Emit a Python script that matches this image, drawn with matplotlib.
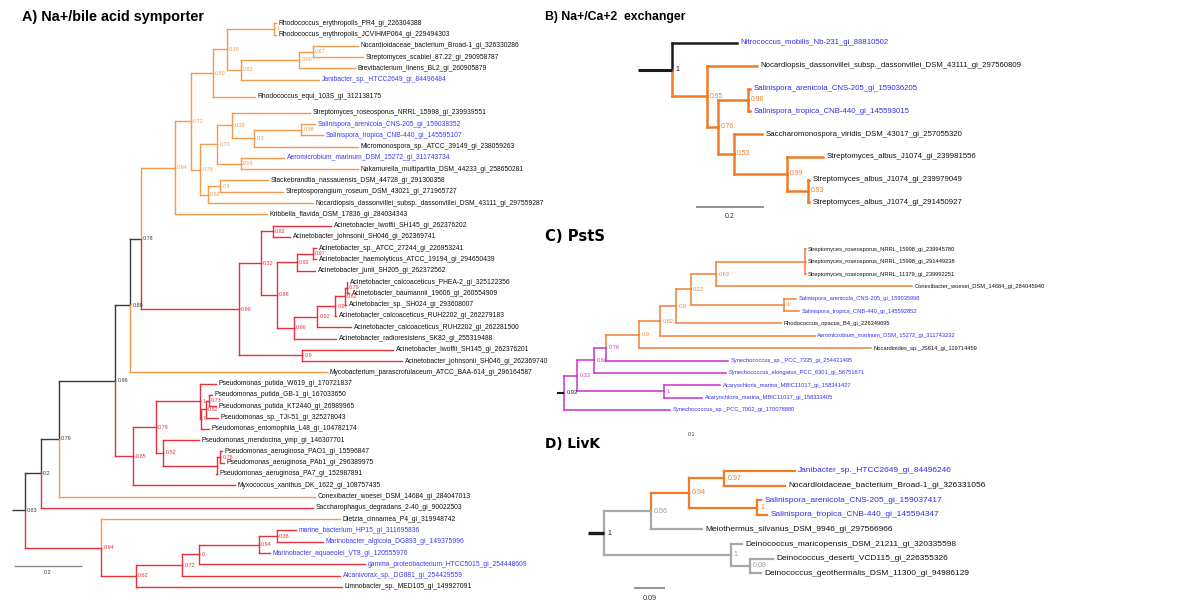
import matplotlib
matplotlib.use("Agg")
import matplotlib.pyplot as plt
from matplotlib.collections import LineCollection
from matplotlib.transforms import ScaledTranslation

plt.rcParams['font.family'] = ['Liberation Sans', 'DejaVu Sans']

# ====================== DATA ======================
# ---- Panel A: Na+/bile acid symporter ----
A_leaves = [
    'Rhodococcus_erythropolis_PR4_gi_226304388',
    'Rhodococcus_erythropolis_JCVIHMP064_gi_229494303',
    'Nocardioidaceae_bacterium_Broad-1_gi_326330286',
    'Streptomyces_scabiei_87.22_gi_290958787',
    'Brevibacterium_linens_BL2_gi_260905879',
    'Janibacter_sp._HTCC2649_gi_84496484',
    'Rhodococcus_equi_103S_gi_312138175',
    'Streptomyces_roseosporus_NRRL_15998_gi_239939551',
    'Salinispora_arenicola_CNS-205_gi_159038352',
    'Salinispora_tropica_CNB-440_gi_145595107',
    'Micromonospora_sp._ATCC_39149_gi_238059263',
    'Aeromicrobium_marinum_DSM_15272_gi_311743734',
    'Nakamurella_multipartita_DSM_44233_gi_258650281',
    'Stackebrandtia_nassauensis_DSM_44728_gi_291300358',
    'Streptosporangium_roseum_DSM_43021_gi_271965727',
    'Nocardiopsis_dassonvillei_subsp._dassonvillei_DSM_43111_gi_297559287',
    'Kribbella_flavida_DSM_17836_gi_284034343',
    'Acinetobacter_lwoffii_SH145_gi_262376202',
    'Acinetobacter_johnsonii_SH046_gi_262369741',
    'Acinetobacter_sp._ATCC_27244_gi_226953241',
    'Acinetobacter_haemolyticus_ATCC_19194_gi_294650439',
    'Acinetobacter_junii_SH205_gi_262372562',
    'Acinetobacter_calcoaceticus_PHEA-2_gi_325122356',
    'Acinetobacter_baumannii_19606_gi_260554909',
    'Acinetobacter_sp._SH024_gi_293608007',
    'Acinetobacter_calcoaceticus_RUH2202_gi_262279183',
    'Acinetobacter_calcoaceticus_RUH2202_gi_262281500',
    'Acinetobacter_radioresistens_SK82_gi_255319488',
    'Acinetobacter_lwoffii_SH145_gi_262376201',
    'Acinetobacter_johnsonii_SH046_gi_262369740',
    'Mycobacterium_parascrofulaceum_ATCC_BAA-614_gi_296164587',
    'Pseudomonas_putida_W619_gi_170721837',
    'Pseudomonas_putida_GB-1_gi_167033650',
    'Pseudomonas_putida_KT2440_gi_26989965',
    'Pseudomonas_sp._TJI-51_gi_325278043',
    'Pseudomonas_entomophila_L48_gi_104782174',
    'Pseudomonas_mendocina_ymp_gi_146307701',
    'Pseudomonas_aeruginosa_PAO1_gi_15596847',
    'Pseudomonas_aeruginosa_PAb1_gi_296389975',
    'Pseudomonas_aeruginosa_PA7_gi_152987891',
    'Myxococcus_xanthus_DK_1622_gi_108757435',
    'Conexibacter_woesei_DSM_14684_gi_284047013',
    'Saccharophagus_degradans_2-40_gi_90022503',
    'Dietzia_cinnamea_P4_gi_319948742',
    'marine_bacterium_HP15_gi_311695836',
    'Marinobacter_algicola_DG893_gi_149375996',
    'Marinobacter_aquaeolei_VT8_gi_120555976',
    'gamma_proteobacterium_HTCC5015_gi_254448609',
    'Alcanivorax_sp._DG881_gi_254429559',
    'Limnobacter_sp._MED105_gi_149927091',
]
A_leaf_depth = [0.738, 0.738, 0.979, 0.994, 0.971, 0.865, 0.676, 0.838, 0.853, 0.876,
                0.979, 0.762, 0.979, 0.715, 0.759, 0.847, 0.712, 0.900, 0.779, 0.856,
                0.856, 0.853, 0.947, 0.954, 0.944, 0.916, 0.959, 0.915, 1.082, 1.109,
                0.888, 0.562, 0.550, 0.562, 0.568, 0.541, 0.512, 0.578, 0.584, 0.563,
                0.618, 0.853, 0.847, 0.926, 0.797, 0.876, 0.721, 1.000, 0.926, 0.932]
A_leaf_edge = list('o' * 17 + 'r' * 13 + 'o' + 'r' * 10 + 'o' + 'r' + 'o' + 'r' * 6)
A_blue = [5, 8, 9, 11, 44, 45, 46, 47, 48]
A_node_names = ['root', 'n02', 'n079k', 'n096', 'n088', 'n078', 'n094o', 'n072', 'n089',
                'n019', 'n1a', 'n082a', 'n099a', 'n067', 'n079o', 'n073', 'n039', 'n03',
                'n098s', 'n098a', 'n082b', 'n08', 'n099r', 'n032', 'n082r', 'n088r',
                'n092r', 'n097r', 'n066', 'n092b', 'n09b', 'n082c', 'n079c', 'n09r',
                'n085', 'n079p', 'n1p', 'n0p', 'n082p', 'n073p', 'n052', 'nPA', 'n076',
                'n094r', 'n062', 'n072r', 'n0r', 'n094m', 'n038']
A_node_depth = [0.0, 0.047, 0.100, 0.265, 0.309, 0.341, 0.441, 0.488, 0.553,
                0.594, 0.732, 0.635, 0.806, 0.847, 0.515, 0.565, 0.609, 0.674,
                0.812, 0.635, 0.538, 0.574, 0.629, 0.694, 0.729, 0.741,
                0.800, 0.847, 0.791, 0.859, 0.912, 0.941, 0.946, 0.815,
                0.318, 0.385, 0.515, 0.519, 0.532, 0.541, 0.406, 0.565, 0.574,
                0.224, 0.326, 0.462, 0.512, 0.688, 0.741]
A_node_support = ['0.83', '0.2', '0.79', '0.96', '0.88', '0.78', '0.94', '0.72', '0.89',
                  '0.19', '1', '0.82', '0.99', '0.67', '0.79', '0.73', '0.39', '0.3',
                  '0.98', '0.98', '0.82', '0.8', '0.99', '0.32', '0.82', '0.88',
                  '0.92', '0.97', '0.66', '0.92', '0.9', '0.82', '0.79', '0.9',
                  '0.85', '0.79', '1', '0', '0.82', '0.73', '0.52', '', '0.76',
                  '0.94', '0.62', '0.72', '0', '0.94', '0.38']
A_node_edge = list('k' * 6 + 'o' * 16 + 'r' * 27)
A_node_kids = [
    ['n02', 'n094r'], ['n079k', 42], ['n096', 41], ['n088', 'n085'], ['n078', 30],
    ['n094o', 'n099r'], ['n072', 16], ['n089', 'n079o'], ['n019', 6],
    ['n1a', 'n082a'], [0, 1], ['n099a', 5], ['n067', 4], [2, 3],
    ['n073', 'n082b'], ['n039', 'n098a'], [7, 'n03'], ['n098s', 10],
    [8, 9], [11, 12], ['n08', 15], [13, 14],
    ['n032', 'n09r'], ['n082r', 'n088r'], [17, 18], ['n092r', 'n066'],
    ['n097r', 21], [19, 20], ['n092b', 27], ['n09b', 26], ['n082c', 25],
    ['n079c', 24], [22, 23], [28, 29],
    ['n079p', 40], ['n1p', 'n052'], [31, 'n0p'], ['n082p', 35], ['n073p', 34],
    [32, 33], [36, 'nPA'], ['n076', 39], [37, 38],
    [43, 'n062'], ['n072r', 49], ['n0r', 48], ['n094m', 47], ['n038', 46], [44, 45],
]
A_scale = 0.2

# ---- Panel B: Na+/Ca+2 exchanger ----
B_leaves = [
    'Nitrococcus_mobilis_Nb-231_gi_88810502',
    'Nocardiopsis_dassonvillei_subsp._dassonvillei_DSM_43111_gi_297560809',
    'Salinispora_arenicola_CNS-205_gi_159036205',
    'Salinispora_tropica_CNB-440_gi_145593015',
    'Saccharomonospora_viridis_DSM_43017_gi_257055320',
    'Streptomyces_albus_J1074_gi_239981556',
    'Streptomyces_albus_J1074_gi_239979049',
    'Streptomyces_albus_J1074_gi_291450927',
]
B_leaf_depth = [0.191, 0.250, 0.229, 0.229, 0.265, 0.444, 0.403, 0.403]
B_leaf_edge = ['k', 'o', 'o', 'o', 'o', 'o', 'o', 'o']
B_blue = [0, 2, 3]
B_node_names = ['root', 'n095', 'n076', 'n098', 'n053', 'n099', 'n093']
B_node_depth = [0.0, 0.103, 0.135, 0.224, 0.182, 0.338, 0.400]
B_node_support = ['1', '0.95', '0.76', '0.98', '0.53', '0.99', '0.93']
B_node_edge = ['k', 'o', 'o', 'o', 'o', 'o', 'o']
B_node_kids = [[0, 'n095'], [1, 'n076'], ['n098', 'n053'], [2, 3],
               [4, 'n099'], [5, 'n093'], [6, 7]]
B_scale = 0.2

# ---- Panel C: PstS ----
C_leaves = [
    'Streptomyces_roseosporus_NRRL_15998_gi_239945780',
    'Streptomyces_roseosporus_NRRL_15998_gi_291449238',
    'Streptomyces_roseosporus_NRRL_11379_gi_239992251',
    'Conexibacter_woesei_DSM_14684_gi_284045940',
    'Salinispora_arenicola_CNS-205_gi_159035998',
    'Salinispora_tropica_CNB-440_gi_145592852',
    'Rhodococcus_opacus_B4_gi_226349695',
    'Aeromicrobium_marinum_DSM_15272_gi_311743232',
    'Nocardioides_sp._JS614_gi_119714459',
    'Synechococcus_sp._PCC_7335_gi_254421495',
    'Synechococcus_elongatus_PCC_6301_gi_56751671',
    'Acaryochloris_marina_MBIC11017_gi_158341427',
    'Acaryochloris_marina_MBIC11017_gi_158333405',
    'Synechococcus_sp._PCC_7002_gi_170078880',
]
C_leaf_depth = [0.549, 0.549, 0.549, 0.791, 0.527, 0.534, 0.493, 0.570, 0.698,
                0.373, 0.368, 0.355, 0.314, 0.241]
C_leaf_edge = list('o' * 9 + 'm' * 5)
C_blue = [4, 5, 7, 9, 10, 11, 12, 13]
C_node_names = ['root', 'n033', 'n068', 'n078', 'n09', 'n082', 'n08', 'n022',
                'n083', 'nstrep', 'n1s', 'n1c']
C_node_depth = [0.0, 0.029, 0.068, 0.095, 0.170, 0.218, 0.255, 0.288,
                0.345, 0.548, 0.501, 0.227]
C_node_support = ['0.93', '0.33', '0.68', '0.78', '0.9', '0.82', '0.8', '0.22',
                  '0.83', '', '1', '1']
C_node_edge = ['k', 'm', 'm', 'm', 'o', 'o', 'o', 'o', 'o', 'o', 'o', 'm']
C_node_kids = [['n033', 13], ['n068', 'n1c'], ['n078', 10], ['n09', 9], ['n082', 8],
               ['n08', 7], ['n022', 6], ['n083', 'n1s'], ['nstrep', 3], [0, 1, 2],
               [4, 5], [11, 12]]
C_scale = 0.1

# ---- Panel D: LivK ----
D_leaves = [
    'Janibacter_sp._HTCC2649_gi_84496246',
    'Nocardioidaceae_bacterium_Broad-1_gi_326331056',
    'Salinispora_arenicola_CNS-205_gi_159037417',
    'Salinispora_tropica_CNB-440_gi_145594347',
    'Meiothermus_silvanus_DSM_9946_gi_297566966',
    'Deinococcus_maricopensis_DSM_21211_gi_320335598',
    'Deinococcus_deserti_VCD115_gi_226355326',
    'Deinococcus_geothermalis_DSM_11300_gi_94986129',
]
D_leaf_depth = [0.560, 0.531, 0.460, 0.478, 0.287, 0.405, 0.496, 0.460]
D_leaf_edge = ['o', 'o', 'o', 'o', 'g', 'g', 'g', 'g']
D_blue = [0, 2, 3]
D_node_names = ['root', 'n056', 'n094', 'n097', 'n1s', 'n1d', 'n008']
D_node_depth = [0.0, 0.138, 0.249, 0.353, 0.450, 0.372, 0.428]
D_node_support = ['1', '0.56', '0.94', '0.97', '1', '1', '0.08']
D_node_edge = ['k', 'g', 'o', 'o', 'o', 'g', 'g']
D_node_kids = [['n056', 'n1d'], ['n094', 4], ['n097', 'n1s'], [0, 1], [2, 3],
               [5, 'n008'], [6, 7]]
D_scale = 0.09

titles = ['A) Na+/bile acid symporter', 'B) Na+/Ca+2  exchanger', 'C) PstS', 'D) LivK']

# ====================== LAYOUT / STYLE ======================
W, H = 1200, 612
fig = plt.figure(figsize=(W / 100, H / 100), dpi=100)
fig.patch.set_facecolor('white')


def make_axes(left, right, top, bottom, root_px, ppu, first_px, step):
    ax = fig.add_axes([left / W, 1 - bottom / H, (right - left) / W, (bottom - top) / H])
    ax.set_xlim((left - root_px) / ppu, (right - root_px) / ppu)
    ax.set_ylim((bottom - first_px) / step, (top - first_px) / step)
    ax.axis('off')
    ax.px = lambda x, y: ((x - root_px) / ppu, (y - first_px) / step)
    return ax


def draw_tree(ax, leaves, leaf_depth, leaf_edge, blue, names, depth, support,
              edge, kids, slots, cmap, lw, leaf_fs, sup_fs, stub, stub_lw,
              blue_col, sup_cols=None, leaf_gap=2.0, sup_gap=1.6):
    idx = {n: i for i, n in enumerate(names)}
    ypos, xpos, col = {}, {}, {}
    for i in range(len(leaves)):
        ypos[i] = slots[i]
        xpos[i] = leaf_depth[i]
        col[i] = leaf_edge[i]

    def resolve(key):
        if key in ypos:
            return ypos[key]
        j = idx[key]
        ys = [resolve(k) for k in kids[j]]
        ypos[key] = (ys[0] + ys[-1]) / 2
        xpos[key] = depth[j]
        col[key] = edge[j]
        return ypos[key]

    resolve('root')
    segs, cols = [], []
    for j, n in enumerate(names):
        for k in kids[j]:
            c = cmap[col[k]]
            segs.append([(xpos[n], ypos[n]), (xpos[n], ypos[k])])
            cols.append(c)
            segs.append([(xpos[n], ypos[k]), (xpos[k], ypos[k])])
            cols.append(c)
    lc = LineCollection(segs, colors=cols, linewidths=lw, capstyle='projecting',
                        joinstyle='miter')
    ax.add_collection(lc)
    # root stub
    ax.plot([-stub, 0], [ypos['root'], ypos['root']], color=cmap['k'], lw=stub_lw,
            solid_capstyle='butt')
    lt = ax.transData + ScaledTranslation(leaf_gap / 72, 0, fig.dpi_scale_trans)
    for i, name in enumerate(leaves):
        ax.text(xpos[i], ypos[i], name, transform=lt, fontsize=leaf_fs,
                color=blue_col if i in blue else '#111111', va='center', ha='left',
                clip_on=True)
    st = ax.transData + ScaledTranslation(sup_gap / 72, 0, fig.dpi_scale_trans)
    sc = sup_cols or cmap
    for j, n in enumerate(names):
        if support[j]:
            ax.text(xpos[n], ypos[n], support[j], transform=st, fontsize=sup_fs,
                    color=sc[edge[j]], va='center', ha='left', clip_on=True)


def scale_bar(ax, x0px, ypx, length, label, label_dy, fs, lw):
    x0, y0 = ax.px(x0px, ypx)
    ax.plot([x0, x0 + length], [y0, y0], color='#8a8a8a', lw=lw, solid_capstyle='butt')
    _, yl = ax.px(x0px, ypx + label_dy)
    ax.text(x0 + length / 2, yl, label, ha='center', va='center', fontsize=fs,
            color='#333333')


# ---- Panel A ----
axA = make_axes(0, 548, 0, 612, 25, 340, 23.3, 11.29)
A_slots = [i + (0.5 if i >= 6 else 0) + (0.42 if i >= 7 else 0) for i in range(len(A_leaves))]
cmapA = {'o': '#f49a4e', 'r': '#e8303a', 'k': '#3a3a3a'}
draw_tree(axA, A_leaves, A_leaf_depth, A_leaf_edge, A_blue, A_node_names, A_node_depth,
          A_node_support, A_node_edge, A_node_kids, A_slots, cmapA, 1.0, 4.9, 3.9,
          0.038, 1.0, '#3b3bf0')
scale_bar(axA, 14, 566, A_scale, '0.2', 7, 3.9, 1.0)

# ---- Panel B ----
axB = make_axes(540, 1200, 0, 220, 672, 340, 43, 22.76)
cmapB = {'o': '#f27a25', 'k': '#1a1a1a'}
draw_tree(axB, B_leaves, B_leaf_depth, B_leaf_edge, B_blue, B_node_names, B_node_depth,
          B_node_support, B_node_edge, B_node_kids, list(range(len(B_leaves))), cmapB,
          1.8, 5.6, 4.9, 0.1, 2.2, '#2f2fe6', leaf_gap=2.4, sup_gap=2.2)
scale_bar(axB, 696, 206.7, B_scale, '0.2', 10, 5.0, 1.3)

# ---- Panel C ----
axC = make_axes(540, 1200, 220, 420, 564, 440, 249.3, 12.36)
cmapC = {'o': '#f2843a', 'm': '#cc3acc', 'k': '#1a1a1a'}
draw_tree(axC, C_leaves, C_leaf_depth, C_leaf_edge, C_blue, C_node_names, C_node_depth,
          C_node_support, C_node_edge, C_node_kids, list(range(len(C_leaves))), cmapC,
          1.15, 4.15, 4.1, 0.017, 1.5, '#3333ee', leaf_gap=1.8, sup_gap=1.8)
scale_bar(axC, 670, 426.7, C_scale, '0.1', 8.3, 3.8, 1.0)

# ---- Panel D ----
axD = make_axes(540, 1200, 420, 612, 604, 341, 471, 14.6)
cmapD = {'o': '#f27a25', 'g': '#a8a8a8', 'k': '#1a1a1a'}
draw_tree(axD, D_leaves, D_leaf_depth, D_leaf_edge, D_blue, D_node_names, D_node_depth,
          D_node_support, D_node_edge, D_node_kids, list(range(len(D_leaves))), cmapD,
          1.6, 6.0, 5.1, 0.046, 2.4, '#2f2fe6',
          sup_cols={'o': '#f27a25', 'g': '#9a9a9a', 'k': '#1a1a1a'}, leaf_gap=2.4, sup_gap=2.2)
scale_bar(axD, 634.3, 587.7, D_scale, '0.09', 10.6, 5.2, 1.3)

# ---- Titles ----
fig.text(21.7 / W, 1 - 16.7 / H, titles[0], fontsize=10.4, fontweight='bold',
         family=['Liberation Sans'], va='center', ha='left')
fig.text(545 / W, 1 - 17 / H, titles[1], fontsize=8.8, fontweight='bold',
         family=['Liberation Sans'], va='center', ha='left')
fig.text(545 / W, 1 - 236.7 / H, titles[2], fontsize=10.6, fontweight='bold',
         family=['DejaVu Sans'], va='center', ha='left')
fig.text(545 / W, 1 - 444 / H, titles[3], fontsize=9.8, fontweight='bold',
         family=['DejaVu Sans'], va='center', ha='left')

fig.savefig('out.png', dpi=100, facecolor='white')
